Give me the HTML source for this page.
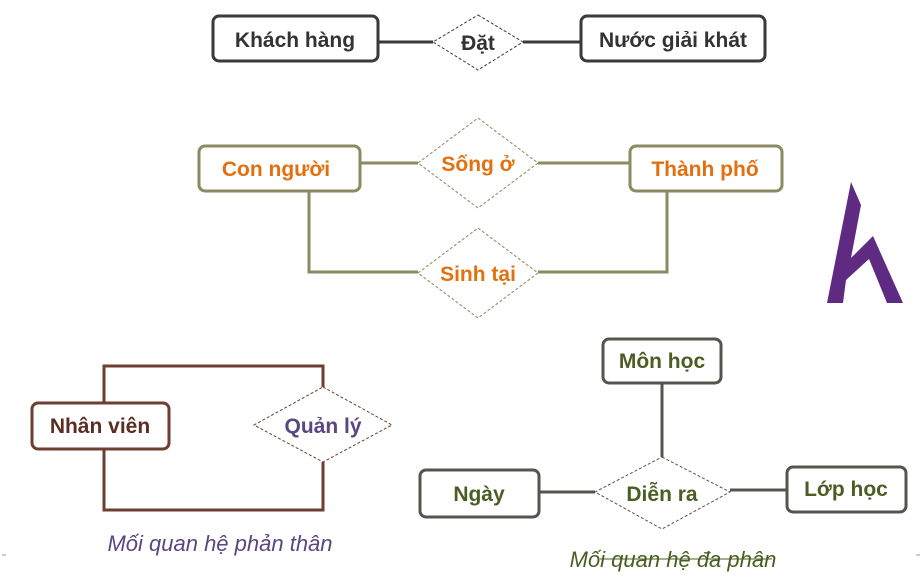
<!DOCTYPE html>
<html><head><meta charset="utf-8"><style>
body{margin:0;background:#fff;}
svg text{font-family:"Liberation Sans","DejaVu Sans",sans-serif;font-weight:bold;}
</style></head><body>
<svg width="922" height="574" viewBox="0 0 922 574" xmlns="http://www.w3.org/2000/svg">
<!-- Row 1 -->
<g stroke="#3a3a3a" fill="none">
<line x1="378" y1="42" x2="433" y2="42" stroke-width="3"/>
<line x1="523" y1="42" x2="580" y2="42" stroke-width="3"/>
<rect x="213" y="16" width="165" height="45" rx="6" stroke-width="3" fill="#fff"/>
<rect x="581" y="16" width="184" height="45" rx="6" stroke-width="3" fill="#fff"/>
<polygon points="478,15 523,42 478,70 433,42" stroke-width="1" stroke-dasharray="3,2" fill="#fff"/>
</g>
<g font-size="21" fill="#333" text-anchor="middle">
<text x="295" y="47">Khách hàng</text>
<text x="478" y="50">Đặt</text>
<text x="673" y="47">Nước giải khát</text>
</g>
<!-- Row 2 -->
<g stroke="#8b8a62" fill="none">
<line x1="360" y1="163" x2="418" y2="163" stroke-width="3"/>
<line x1="538" y1="163" x2="629" y2="163" stroke-width="3"/>
<polyline points="309,191 309,272 418,272" stroke-width="3"/>
<polyline points="538,272 667,272 667,191" stroke-width="3"/>
<rect x="199" y="146" width="161" height="45" rx="6" stroke-width="3" fill="#fff"/>
<rect x="630" y="146" width="152" height="45" rx="6" stroke-width="3" fill="#fff"/>
<polygon points="478,118 538,163 478,208 418,163" stroke-width="1" stroke-dasharray="3,2" fill="#fff"/>
<polygon points="478,228 538,273 478,318 418,273" stroke-width="1" stroke-dasharray="3,2" fill="#fff"/>
</g>
<g font-size="21" fill="#e3700f" text-anchor="middle">
<text x="276" y="176">Con người</text>
<text x="478" y="171">Sống ở</text>
<text x="705" y="176">Thành phố</text>
<text x="478" y="281">Sinh tại</text>
</g>
<!-- Logo -->
<polygon points="851,182 861,205 851,258 873,236 903,303 887,303 869,259 846,280 843,303 827,303" fill="#5e2a82"/>
<!-- Row 3 left -->
<g stroke="#6e3f30" fill="none">
<polyline points="104,402 104,366 323,366 323,387" stroke-width="3"/>
<polyline points="104,449 104,510 323,510 323,462" stroke-width="3"/>
<rect x="32" y="403" width="137" height="46" rx="6" stroke-width="3" fill="#fff"/>
<polygon points="323,387 392,425 323,462 254,425" stroke-width="1" stroke-dasharray="3,2" fill="#fff"/>
</g>
<g font-size="21" text-anchor="middle">
<text x="100" y="433" fill="#5a2e22">Nhân viên</text>
<text x="323" y="433" fill="#5a4680">Quản lý</text>
</g>
<text x="220" y="551" font-size="22" font-style="italic" fill="#5a4680" text-anchor="middle" style="font-weight:normal">Mối quan hệ phản thân</text>
<!-- Row 3 right -->
<g stroke="#55554f" fill="none">
<line x1="662" y1="383" x2="662" y2="457" stroke-width="3"/>
<line x1="539" y1="492" x2="595" y2="492" stroke-width="3"/>
<line x1="730" y1="490" x2="786" y2="490" stroke-width="3"/>
<rect x="603" y="339" width="118" height="44" rx="6" stroke-width="3" fill="#fff"/>
<rect x="420" y="470" width="119" height="47" rx="6" stroke-width="3" fill="#fff"/>
<rect x="787" y="467" width="119" height="45" rx="6" stroke-width="3" fill="#fff"/>
<polygon points="662,457 730,492 662,529 595,492" stroke-width="1" stroke-dasharray="3,2" fill="#fff"/>
</g>
<g font-size="21" fill="#4a5e23" text-anchor="middle">
<text x="662" y="368">Môn học</text>
<text x="479" y="501">Ngày</text>
<text x="662" y="501">Diễn ra</text>
<text x="846" y="496">Lớp học</text>
</g>
<text x="673" y="567" font-size="22" font-style="italic" fill="#4a5e23" text-anchor="middle" style="font-weight:normal">Mối quan hệ đa phân</text>
<line x1="600" y1="559" x2="772" y2="559" stroke="#4a5e23" stroke-width="1"/>
<line x1="2" y1="555" x2="6" y2="555" stroke="#999" stroke-width="1"/>
<line x1="916" y1="555" x2="920" y2="555" stroke="#999" stroke-width="1"/>
</svg>
</body></html>
